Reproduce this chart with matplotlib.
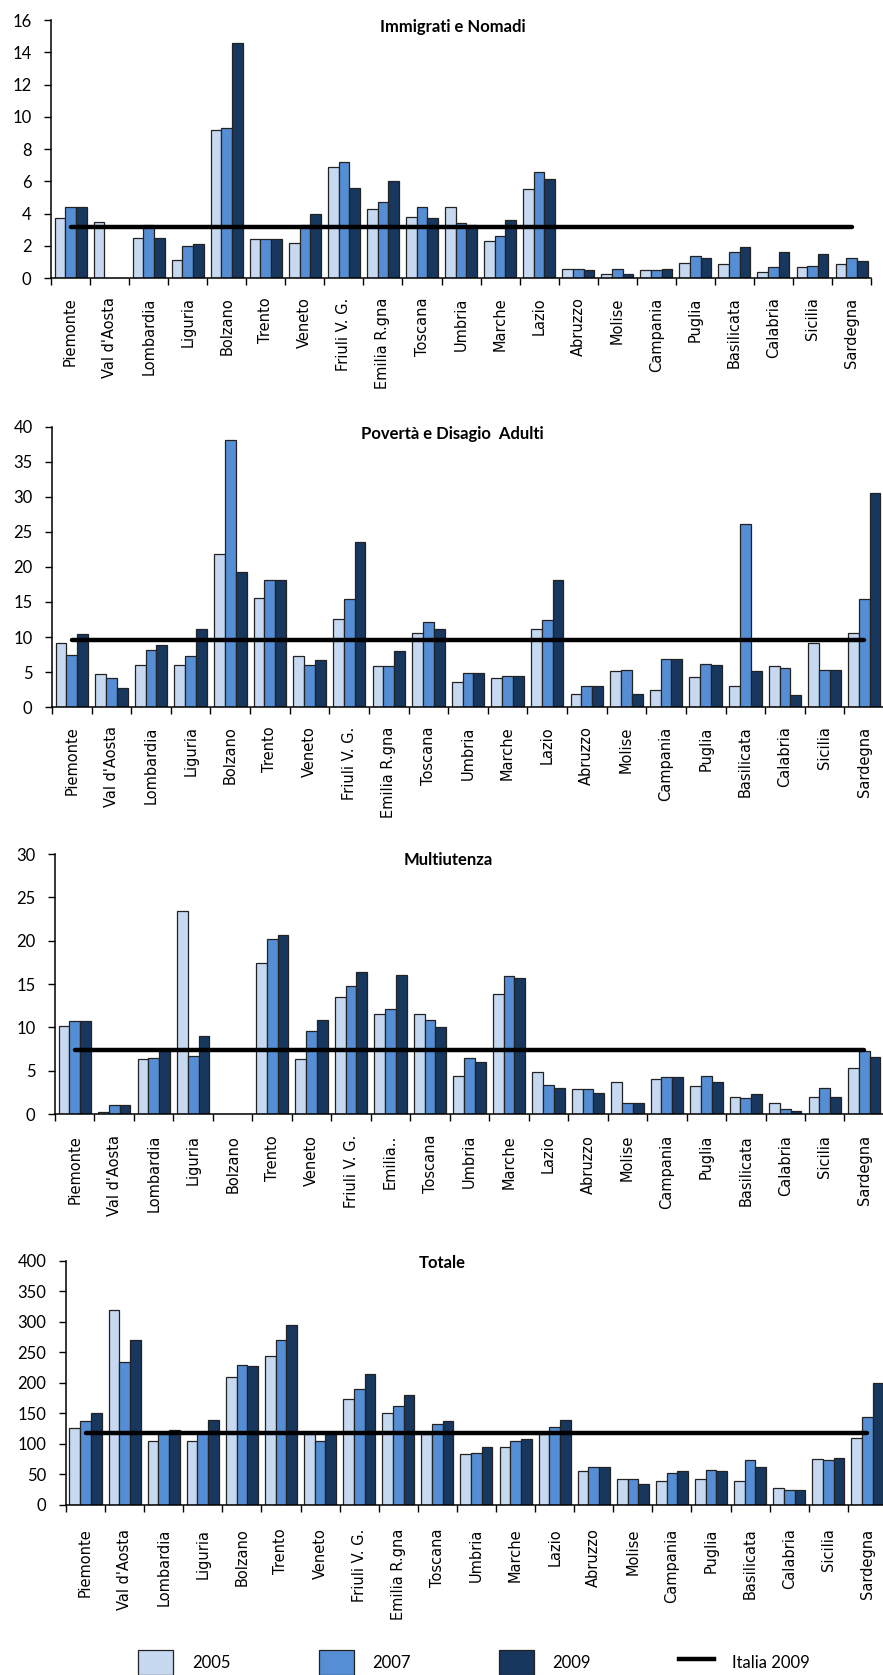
import numpy as np
import matplotlib
matplotlib.use('Agg')
import matplotlib.pyplot as plt
from matplotlib.patches import Patch
from matplotlib.lines import Line2D

regioni = ['Piemonte', "Val d'Aosta", 'Lombardia', 'Liguria', 'Bolzano', 'Trento',
           'Veneto', 'Friuli V. G.', 'Emilia R.gna', 'Toscana', 'Umbria', 'Marche',
           'Lazio', 'Abruzzo', 'Molise', 'Campania', 'Puglia', 'Basilicata',
           'Calabria', 'Sicilia', 'Sardegna']
regioni_multi = regioni[:8] + ['Emilia..'] + regioni[9:]

# Immigrati e Nomadi
imm_2005 = [3.7, 3.5, 2.5, 1.1, 9.2, 2.4, 2.2, 6.9, 4.3, 3.8, 4.4, 2.3, 5.5, 0.56, 0.27, 0.48, 0.93, 0.87, 0.37, 0.68, 0.87]
imm_2007 = [4.4, 0.0, 3.3, 2.0, 9.3, 2.4, 3.3, 7.2, 4.7, 4.4, 3.4, 2.6, 6.6, 0.56, 0.56, 0.48, 1.34, 1.6, 0.68, 0.76, 1.24]
imm_2009 = [4.4, 0.0, 2.5, 2.1, 14.6, 2.4, 4.0, 5.6, 6.0, 3.7, 3.3, 3.6, 6.15, 0.48, 0.27, 0.58, 1.24, 1.9, 1.6, 1.5, 1.03]
imm_italia = 3.14

# Poverta e Disagio Adulti
pov_2005 = [9.1, 4.7, 6.0, 6.0, 21.8, 15.6, 7.3, 12.6, 5.8, 10.6, 3.6, 4.1, 11.2, 1.8, 5.1, 2.5, 4.3, 3.0, 5.8, 9.1, 10.6]
pov_2007 = [7.5, 4.2, 8.2, 7.3, 38.2, 18.2, 6.0, 15.4, 5.8, 12.2, 4.9, 4.4, 12.4, 3.0, 5.35, 6.9, 6.2, 26.1, 5.6, 5.35, 15.4]
pov_2009 = [10.4, 2.7, 8.8, 11.1, 19.3, 18.2, 6.7, 23.5, 8.0, 11.2, 4.9, 4.4, 18.2, 3.0, 1.8, 6.9, 6.0, 5.1, 1.7, 5.35, 30.5]
pov_italia = 9.55

# Multiutenza
mul_2005 = [10.2, 0.2, 6.35, 23.4, 0.0, 17.45, 6.35, 13.55, 11.5, 11.5, 4.4, 13.9, 4.8, 2.85, 3.65, 4.1, 3.2, 1.95, 1.25, 1.95, 5.3]
mul_2007 = [10.7, 1.05, 6.5, 6.7, 0.0, 20.25, 9.6, 14.8, 12.1, 10.9, 6.5, 15.9, 3.35, 2.85, 1.25, 4.25, 4.4, 1.8, 0.55, 3.05, 7.3]
mul_2009 = [10.7, 1.05, 7.4, 9.0, 0.0, 20.65, 10.9, 16.35, 16.05, 10.0, 6.0, 15.65, 3.05, 2.45, 1.25, 4.25, 3.7, 2.3, 0.35, 1.95, 6.55]
mul_italia = 7.4

# Totale
tot_2005 = [127, 320, 105, 105, 210, 245, 117, 173, 150, 117, 83, 95, 116, 55, 43, 40, 43, 40, 28, 75, 110]
tot_2007 = [137, 235, 116, 118, 230, 270, 105, 190, 162, 133, 86, 105, 128, 62, 43, 52, 58, 73, 24, 73, 145]
tot_2009 = [150, 270, 123, 140, 228, 295, 117, 215, 180, 137, 95, 108, 140, 62, 35, 55, 55, 62, 24, 77, 200]
tot_italia = 118

anni = ['2005', '2007', '2009']
colori = ['#c6d9f1', '#558ed5', '#17375e']

pannelli = [
    ('Immigrati e Nomadi', regioni, [imm_2005, imm_2007, imm_2009], imm_italia,
     16, 2, [0.0578, 0.834, 0.9287, 0.154], 14, (0.49, 0.973)),
    ('Povertà e Disagio  Adulti', regioni, [pov_2005, pov_2007, pov_2009], pov_italia,
     40, 5, [0.0589, 0.5779, 0.9422, 0.1672], 14, (0.481, 0.975)),
    ('Multiutenza', regioni_multi, [mul_2005, mul_2007, mul_2009], mul_italia,
     30, 5, [0.0623, 0.3349, 0.9388, 0.1552], 15, (0.474, 0.977)),
    ('Totale', regioni, [tot_2005, tot_2007, tot_2009], tot_italia,
     400, 50, [0.0747, 0.1015, 0.9298, 0.1457], 17, (0.458, 0.99)),
]

fig = plt.figure(figsize=(8.83, 16.75), dpi=100)
x = np.arange(len(regioni))
w = 0.273

for titolo, etichette, serie, italia, ymax, passo, pos, pad, tpos in pannelli:
    ax = fig.add_axes(pos)
    for i, vals in enumerate(serie):
        ax.bar(x + (i - 1) * w, vals, width=w, color=colori[i],
               edgecolor='#222222', linewidth=0.9, zorder=2)
    ax.plot([x[0], x[-1]], [italia, italia], color='black', lw=3.2,
            solid_capstyle='round', zorder=3)
    ax.set_xlim(-0.5, len(regioni) - 0.5)
    ax.set_ylim(0, ymax)
    ax.set_yticks(np.arange(0, ymax + passo / 2, passo))
    ax.set_xticks(x)
    ax.set_xticklabels(etichette, rotation=90, fontsize=10.5, family='DejaVu Sans')
    ax.set_xticks(np.arange(-0.5, len(regioni), 1), minor=True)
    ax.tick_params(axis='x', which='major', length=0, pad=pad)
    ax.tick_params(axis='x', which='minor', length=5, width=1, direction='out')
    ax.tick_params(axis='y', length=5, width=1, direction='out', pad=9)
    for lab in ax.get_yticklabels():
        lab.set_family('Lato')
        lab.set_fontsize(12)
    for s in ['top', 'right']:
        ax.spines[s].set_visible(False)
    for s in ['left', 'bottom']:
        ax.spines[s].set_linewidth(1.1)
    ax.text(tpos[0], tpos[1], titolo, transform=ax.transAxes, ha='center', va='center',
            fontsize=12, fontweight='bold', family='Lato')

handles = [Patch(facecolor=c, edgecolor='#222222', linewidth=0.9) for c in colori]
handles.append(Line2D([0], [0], color='black', lw=3.2))
fig.legend(handles, anni + ['Italia 2009'], loc='center', bbox_to_anchor=(0.537, 0.0075),
           ncol=4, frameon=False, prop={'family': 'Lato', 'size': 12},
           handlelength=2.1, handleheight=1.9, handletextpad=1.1, columnspacing=5.3)

fig.savefig('out.png', dpi=100)
